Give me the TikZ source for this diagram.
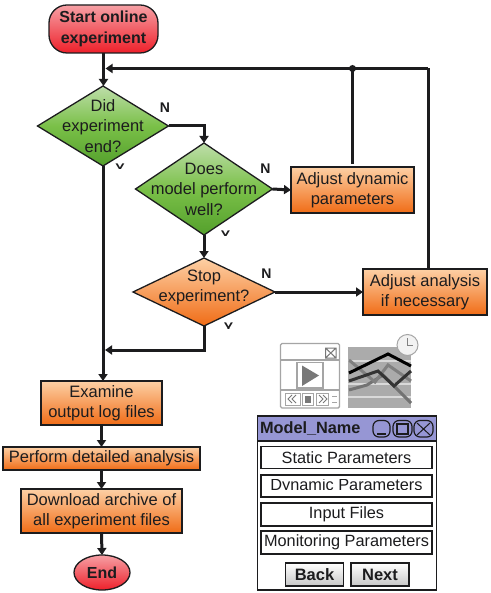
\documentclass[tikz,border=0pt]{standalone}
\usepackage{fontspec}
\setmainfont{Liberation Sans}
\usetikzlibrary{shapes.geometric,arrows.meta,calc}
\definecolor{ink}{RGB}{28,28,30}
\definecolor{redT}{RGB}{246,160,165}
\definecolor{redB}{RGB}{238,32,42}
\definecolor{orT}{RGB}{253,208,165}
\definecolor{orB}{RGB}{240,108,22}
\definecolor{grT}{RGB}{190,222,170}
\definecolor{grM}{RGB}{122,192,72}
\definecolor{grB}{RGB}{84,160,44}
\definecolor{barC}{RGB}{150,150,212}
\definecolor{icoC}{RGB}{165,165,165}
\definecolor{icoD}{RGB}{120,120,120}
\tikzset{
  x=1pt,y=-1pt,
  every node/.style={inner sep=0pt,outer sep=0pt,text=ink},
  txt/.style={font=\fontsize{16.5}{20.5}\selectfont,align=center},
  startbox/.style={draw=ink,line width=1.3pt,rounded corners=18pt,top color=redT,bottom color=redB,
    minimum width=109pt,minimum height=48pt,font=\fontsize{16}{20.5}\selectfont\bfseries,align=center},
  endbox/.style={ellipse,draw=ink,line width=1.3pt,top color=redT,bottom color=redB,
    minimum width=56pt,minimum height=35pt,font=\fontsize{16}{20.5}\selectfont\bfseries},
  orbox/.style={txt,draw=ink,line width=1.3pt,top color=orT,bottom color=orB},
  grdia/.style={diamond,draw=ink,line width=1.3pt,top color=grT,bottom color=grB,middle color=grM},
  ordia/.style={diamond,draw=ink,line width=1.3pt,top color=orT,bottom color=orB},
  flow/.style={draw=ink,line width=3pt,-{Triangle[length=7pt,width=9pt]}},
  plain/.style={draw=ink,line width=3pt},
  flag/.style={font=\fontsize{14}{14}\selectfont\bfseries},
  rowbox/.style={draw=ink,line width=1.3pt,fill=white,minimum width=171pt,font=\fontsize{16.3}{18}\selectfont},
  btn/.style={draw=ink,line width=1.3pt,top color=white,bottom color=black!22,minimum width=58pt,minimum height=23pt,font=\fontsize{16.5}{18}\selectfont\bfseries},
  winbtn/.style={draw=ink,line width=1.2pt,fill=barC},
  ico/.style={draw=icoC,line width=1.4pt,fill=white},
}
\begin{document}
\begin{tikzpicture}
\useasboundingbox (0,0) rectangle (490,593);
\fill[white] (0,0) rectangle (490,593);

% flow nodes
\node[startbox] (start) at (103.5,29) {Start online\\experiment};
\node[grdia,minimum width=131pt,minimum height=80pt,aspect=1.64,label={[txt]center:Did\\experiment\\end?}] (d1) at (103,126) {};
\node[grdia,minimum width=137pt,minimum height=92pt,aspect=1.49,label={[txt]center:Does\\model perform\\well?}] (d2) at (204,189) {};
\node[ordia,minimum width=142pt,minimum height=68pt,aspect=2.09] (d3) at (204,292) {};
\node[txt] (d3t) at (204,287.5) {Stop\\experiment?};
\node[orbox,minimum width=123pt,minimum height=46pt] (adyn) at (352.5,190) {Adjust dynamic\\parameters};
\node[orbox,minimum width=124pt,minimum height=46pt] (aana) at (425,292) {Adjust analysis\\if necessary};
\node[orbox,minimum width=121pt,minimum height=44pt] (exam) at (101.5,403) {Examine\\output log files};
\node[orbox,minimum width=197pt,minimum height=23pt] (perf) at (101.5,458.5) {Perform detailed analysis};
\node[orbox,minimum width=161pt,minimum height=44pt] (down) at (101.5,511) {Download archive of\\all experiment files};
\node[endbox] (endn) at (102,572.5) {End};

% flags
\node[flag] (n1) at (165,107.5) {N};
\node[flag] (n2) at (265.5,169) {N};
\node[flag] (n3) at (266.5,274) {N};
\begin{scope}
\clip (110,163) rectangle (130,168.5);
\node[flag] (y1) at (120,168.5) {Y};
\end{scope}
\begin{scope}
\clip (215,230) rectangle (235,236);
\node[flag] (y2) at (225.5,235.5) {Y};
\end{scope}
\begin{scope}
\clip (219,322) rectangle (239,328);
\node[flag] (y3) at (228.5,327.5) {Y};
\end{scope}

% connectors
\coordinate (loopT) at (428,68.5);
\coordinate (loopJ) at (adyn.north |- loopT);
\coordinate (loopL) at ($(start.south |- loopT)+(2,0)$);
\coordinate (joinB) at (d3.south |- 0,350);
\coordinate (joinL) at (105,350);
\draw[flow] (start.south) -- (start.south |- d1.north);
\draw[plain] (428,269) -- (loopT);
\draw[flow] (loopT) -- (loopL);
\draw[plain] (adyn.north) ++(0,-3) -- (loopJ);
\fill[ink] (loopJ) circle (3.5pt);
\draw[flow] (d1.east) -| (d2.north);
\draw[flow] (d1.south) -- (d1.south |- exam.north);
\draw[flow] (d2.south) -- (d3.north);
\draw[flow] (d2.east) -- (adyn.west);
\draw[flow] (d3.east) -- (aana.west);
\draw[flow] (d3.south) -- (joinB) -- (joinL);
\draw[flow] (exam.south) -- (perf.north);
\draw[flow] (perf.south) -- (down.north);
\draw[flow] (down.south) -- (endn.north);

% player icon
\draw[ico,rounded corners=1.5pt] (280.5,343.5) rectangle (339.5,408);
\draw[icoC,line width=1.4pt] (280.5,360) -- (339.5,360) (280.5,390) -- (339.5,390);
\draw[icoD,line width=1pt] (325.5,348) rectangle (336,358) (325.5,348) -- (336,358) (336,348) -- (325.5,358);
\draw[icoC,line width=1.4pt,fill=white] (297,362.5) rectangle (323,388);
\fill[icoD] (302,365.5) -- (319,375.5) -- (302,386) -- cycle;
\draw[icoC,line width=1pt] (285,393) rectangle (300,405) (302,393) rectangle (313,405) (316,393) rectangle (328,405);
\fill[icoD] (304.5,395.5) rectangle (311,402.5);
\draw[icoD,line width=1pt] (292,395) -- (288,399) -- (292,403) (296,395) -- (292,399) -- (296,403);
\draw[icoD,line width=1pt] (319,395) -- (323,399) -- (319,403) (323,395) -- (327,399) -- (323,403);
\draw[icoC,line width=1pt] (332,396) -- (337,396) (332,402) -- (337,402);

% chart icon
\fill[black!33] (348,347) rectangle (411,408);
\draw[white!85!black,line width=1.4pt] (348,361) -- (411,361) (348,384) -- (411,384) (348,397) -- (411,397);
\draw[black!55,line width=3pt] (349,390) -- (367,385) -- (383,375) -- (411,403);
\draw[black!50,line width=3pt] (349,360) -- (375,382) -- (388,365) -- (411,381);
\draw[black!80,line width=3pt] (349,381) -- (378,371) -- (394,386) -- (411,371);
\draw[black,line width=3pt] (349,373) -- (388,354) -- (411,366);
\draw[black!35,line width=1pt,fill=black!5] (407.5,345) circle (10.5pt);
\draw[black!50,line width=0.8pt] (407.5,338) -- (407.5,345.5) -- (413,345.5);

% window
\draw[ink,line width=1.5pt,fill=white] (257.5,416) rectangle (436.5,590);
\draw[ink,line width=1.5pt,fill=barC] (257.5,416) rectangle (436.5,441);
\node[anchor=west,font=\fontsize{16.3}{18}\selectfont\bfseries] (title) at (260,429) {Model\_Name};
\draw[winbtn,rounded corners=6pt] (373,420.5) rectangle (390,437);
\draw[ink,line width=1.5pt] (377,434) -- (386,434);
\draw[winbtn,rounded corners=6pt] (393,420.5) rectangle (412,437);
\draw[ink,line width=1.2pt] (397,424) rectangle (408,434);
\draw[winbtn,rounded corners=6pt] (414,420.5) rectangle (433,437);
\draw[ink,line width=1pt] (417,423) -- (430,435) (430,423) -- (417,435);
\node[rowbox,minimum height=22pt] (r1) at (346.5,457.5) {Static Parameters};
\node[rowbox,minimum height=22pt] (r2) at (346.5,486) {};
\begin{scope}
\clip (262,479) rectangle (431,489);
\node[anchor=base,font=\fontsize{16.3}{18}\selectfont] (r2t) at (346.5,490) {Dynamic Parameters};
\end{scope}
\node[rowbox,minimum height=23pt] (r3) at (346.5,514.5) {Input Files};
\node[rowbox,minimum height=23pt] (r4) at (346.5,542.5) {Monitoring Parameters};
\node[btn] (back) at (314.5,574.5) {Back};
\node[btn] (next) at (380,574.5) {Next};
\end{tikzpicture}
\end{document}
